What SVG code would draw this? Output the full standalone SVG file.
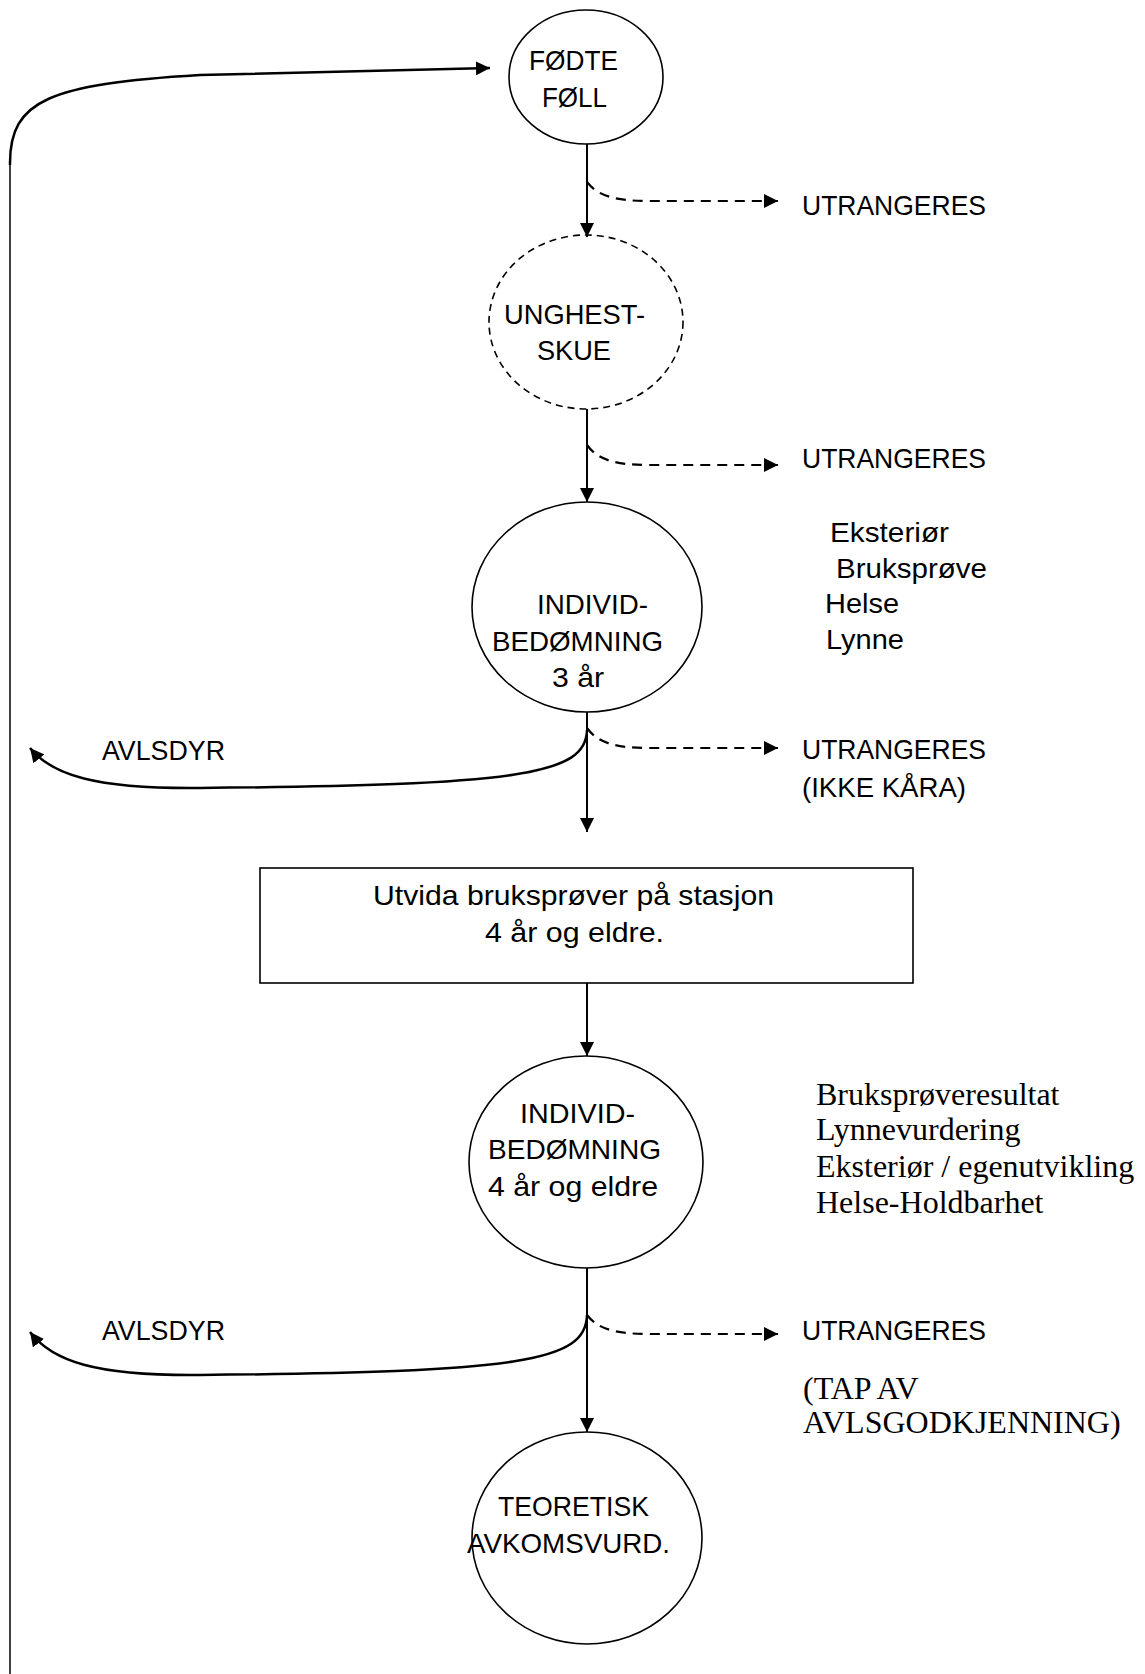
<svg xmlns="http://www.w3.org/2000/svg" width="1145" height="1674" viewBox="0 0 1145 1674">
<defs>
<style>
.bg{fill:#fff}
.node{fill:none;stroke:#000;stroke-width:1.6}
.dnode{fill:none;stroke:#000;stroke-width:1.6;stroke-dasharray:7 5}
.t{font-family:"Liberation Sans",Arial,sans-serif;font-size:28px;fill:#000}
.s{font-family:"Liberation Serif","Times New Roman",serif;font-size:32px;fill:#000}
.c{fill:none;stroke:#000;stroke-width:2}
.cv{fill:none;stroke:#000;stroke-width:2.5}
.ct{fill:none;stroke:#000;stroke-width:1.5}
.cd{fill:none;stroke:#000;stroke-width:2.2;stroke-dasharray:10 7}
</style>
<marker id="ah" viewBox="0 0 14 14" markerUnits="userSpaceOnUse" markerWidth="14" markerHeight="14" refX="14" refY="7" orient="auto">
<path d="M0,0 L14,7 L0,14 z" fill="#000"/>
</marker>
</defs>
<rect class="bg" x="0" y="0" width="1145" height="1674"/>

<g id="connectors">
<path class="ct" d="M10,1674 L10,163"/>
<path class="cv" d="M10,165 L10,163 C10,100 50,84 200,75 L490,68" marker-end="url(#ah)"/>
<path class="c" d="M587,144 L587,237" marker-end="url(#ah)"/>
<path class="cd" d="M587,182 C598,196 615,201 650,201 L778,201" marker-end="url(#ah)"/>
<path class="c" d="M587,409 L587,502" marker-end="url(#ah)"/>
<path class="cd" d="M587,445 C598,460 615,465 650,465 L778,465" marker-end="url(#ah)"/>
<path class="c" d="M587,712 L587,832" marker-end="url(#ah)"/>
<path class="cd" d="M587,728 C598,743 615,748 650,748 L778,748" marker-end="url(#ah)"/>
<path class="cv" d="M587,730 C586,775 520,785 200,788 C95,789 52,775 30,748" marker-end="url(#ah)"/>
<path class="c" d="M587,983 L587,1056" marker-end="url(#ah)"/>
<path class="c" d="M587,1268 L587,1432" marker-end="url(#ah)"/>
<path class="cd" d="M587,1315 C598,1329 615,1334 650,1334 L778,1334" marker-end="url(#ah)"/>
<path class="cv" d="M587,1315 C586,1362 520,1372 200,1375 C95,1376 52,1361 30,1332" marker-end="url(#ah)"/>
</g>

<g id="node-fodte">
<ellipse class="node" cx="586" cy="77" rx="77" ry="67"/>
<text class="t" x="529" y="70" textLength="89" lengthAdjust="spacingAndGlyphs">FØDTE</text>
<text class="t" x="542" y="107" textLength="65" lengthAdjust="spacingAndGlyphs">FØLL</text>
</g>

<g id="node-unghest">
<ellipse class="dnode" cx="586" cy="322" rx="97" ry="87"/>
<text class="t" x="504" y="324" textLength="141" lengthAdjust="spacingAndGlyphs">UNGHEST-</text>
<text class="t" x="537" y="360" textLength="74" lengthAdjust="spacingAndGlyphs">SKUE</text>
</g>

<g id="node-individ3">
<ellipse class="node" cx="587" cy="607" rx="115" ry="105"/>
<text class="t" x="537" y="614" textLength="111" lengthAdjust="spacingAndGlyphs">INDIVID-</text>
<text class="t" x="492" y="651" textLength="171" lengthAdjust="spacingAndGlyphs">BEDØMNING</text>
<text class="t" x="552" y="687" textLength="52" lengthAdjust="spacingAndGlyphs">3 år</text>
</g>

<g id="node-box">
<rect class="node" x="260" y="868" width="653" height="115"/>
<text class="t" x="373" y="905" textLength="401" lengthAdjust="spacingAndGlyphs">Utvida bruksprøver på stasjon</text>
<text class="t" x="485" y="942" textLength="179" lengthAdjust="spacingAndGlyphs">4 år og eldre.</text>
</g>

<g id="node-individ4">
<ellipse class="node" cx="586" cy="1162" rx="117" ry="106"/>
<text class="t" x="520" y="1123" textLength="115" lengthAdjust="spacingAndGlyphs">INDIVID-</text>
<text class="t" x="488" y="1159" textLength="173" lengthAdjust="spacingAndGlyphs">BEDØMNING</text>
<text class="t" x="488" y="1196" textLength="170" lengthAdjust="spacingAndGlyphs">4 år og eldre</text>
</g>

<g id="node-teoretisk">
<ellipse class="node" cx="587" cy="1538" rx="115" ry="106"/>
<text class="t" x="498" y="1516" textLength="151" lengthAdjust="spacingAndGlyphs">TEORETISK</text>
<text class="t" x="467" y="1553" textLength="203" lengthAdjust="spacingAndGlyphs">AVKOMSVURD.</text>
</g>

<g id="labels">
<text class="t" x="802" y="215" textLength="184" lengthAdjust="spacingAndGlyphs">UTRANGERES</text>
<text class="t" x="802" y="468" textLength="184" lengthAdjust="spacingAndGlyphs">UTRANGERES</text>
<text class="t" x="802" y="759" textLength="184" lengthAdjust="spacingAndGlyphs">UTRANGERES</text>
<text class="t" x="802" y="797" textLength="164" lengthAdjust="spacingAndGlyphs">(IKKE KÅRA)</text>
<text class="t" x="802" y="1340" textLength="184" lengthAdjust="spacingAndGlyphs">UTRANGERES</text>
<text class="t" x="830" y="542" textLength="119" lengthAdjust="spacingAndGlyphs">Eksteriør</text>
<text class="t" x="836" y="578" textLength="151" lengthAdjust="spacingAndGlyphs">Bruksprøve</text>
<text class="t" x="825" y="613" textLength="74" lengthAdjust="spacingAndGlyphs">Helse</text>
<text class="t" x="826" y="649" textLength="78" lengthAdjust="spacingAndGlyphs">Lynne</text>
<text class="t" x="102" y="760" textLength="123" lengthAdjust="spacingAndGlyphs">AVLSDYR</text>
<text class="t" x="102" y="1340" textLength="123" lengthAdjust="spacingAndGlyphs">AVLSDYR</text>
<text class="s" x="816" y="1105">Bruksprøveresultat</text>
<text class="s" x="816" y="1140">Lynnevurdering</text>
<text class="s" x="816" y="1177">Eksteriør / egenutvikling</text>
<text class="s" x="816" y="1213">Helse-Holdbarhet</text>
<text class="s" x="803" y="1399">(TAP AV</text>
<text class="s" x="803" y="1433">AVLSGODKJENNING)</text>
</g>
</svg>
